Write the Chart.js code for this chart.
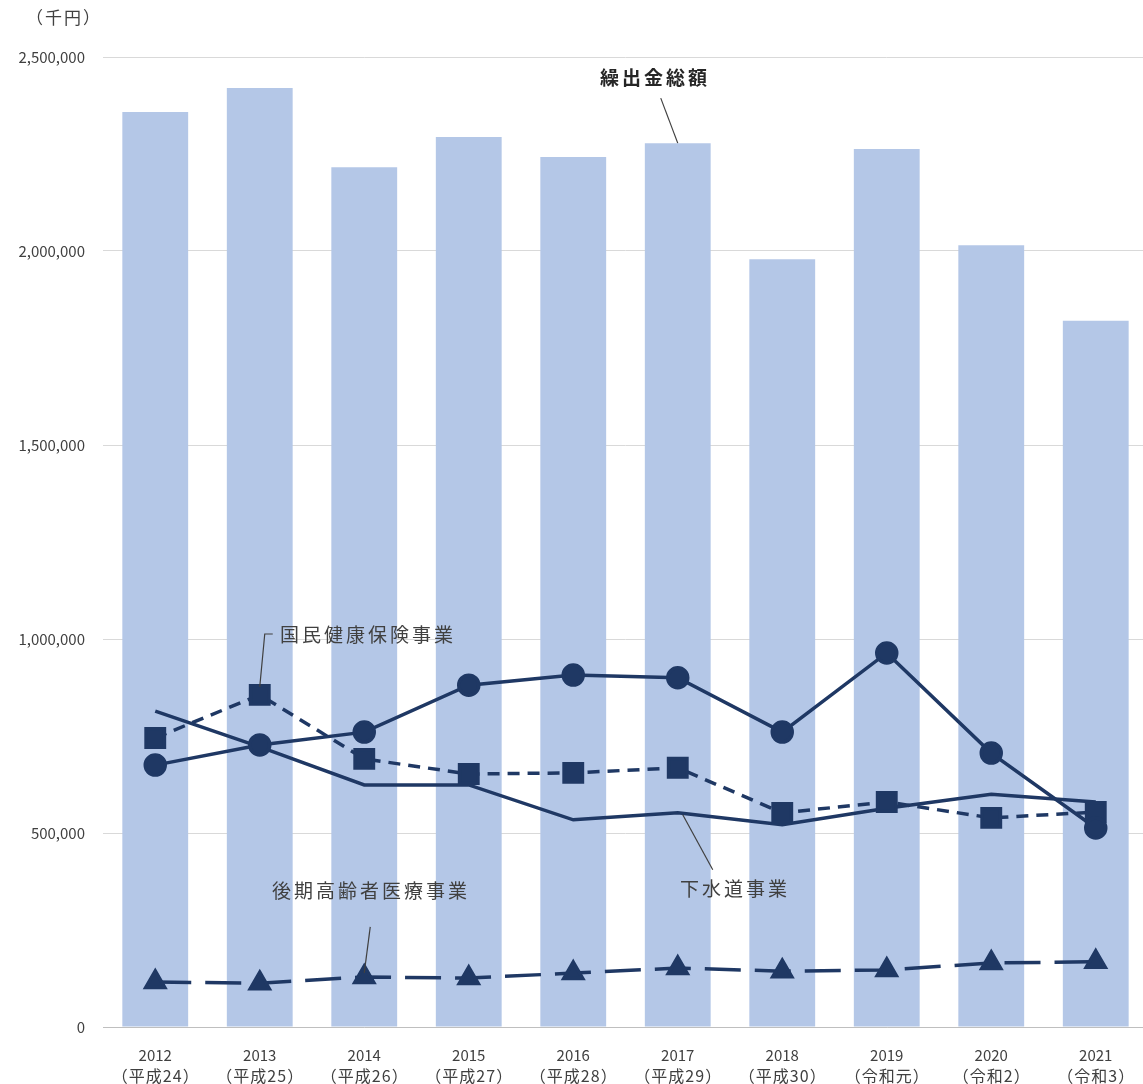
<!DOCTYPE html>
<html>
<head>
<meta charset="utf-8">
<script src="https://cdn.jsdelivr.net/npm/chart.js@4.4.1/dist/chart.umd.min.js"></script>
<style>
    html, body { margin: 0; padding: 0; background: #fff; overflow: hidden; }
    #chart { display: block; }
</style>
</head>
<body>
<canvas id="chart" width="1148" height="1084"></canvas>
<script>
// chart data
const years = ['2012', '2013', '2014', '2015', '2016', '2017', '2018', '2019', '2020', '2021'];
const eras = ['（平成24）', '（平成25）', '（平成26）', '（平成27）', '（平成28）', '（平成29）', '（平成30）', '（令和元）', '（令和2）', '（令和3）'];
const totalTransfer = [2358000, 2420000, 2216000, 2294000, 2242000, 2278000, 1979000, 2263000, 2015000, 1820000];
const careInsurance = [675000, 727000, 760000, 881000, 907000, 900000, 760000, 964000, 706000, 513000];
const nationalHealth = [745000, 856000, 691000, 652000, 655000, 668000, 552000, 580000, 539000, 554000];
const sewerage = [814000, 722000, 624000, 624000, 534000, 552000, 521000, 564000, 600000, 580000];
const elderlyMedical = [116000, 113000, 129000, 126000, 139000, 152000, 144000, 147000, 165000, 168000];
const yTicks = [0, 500000, 1000000, 1500000, 2000000, 2500000];

const navy = '#1f3864';
const textFont = '"Noto Sans CJK JP", "Noto Sans", sans-serif';

// x labels drawn by hand so the era line can get its own size
const xLabelPlugin = {
    id: 'xLabels',
    afterDraw(chart) {
        const ctx = chart.ctx;
        const x = chart.scales.x;
        ctx.save();
        ctx.fillStyle = '#404040';
        ctx.textAlign = 'center';
        ctx.textBaseline = 'middle';
        years.forEach((yr, i) => {
            const px = x.getPixelForTick(i);
            ctx.letterSpacing = '0px';
            ctx.font = '15px ' + textFont;
            ctx.fillText(yr, px, 1055);
            ctx.letterSpacing = '1px';
            ctx.font = '16px ' + textFont;
            ctx.fillText(eras[i], px + 0.5, 1076);
        });
        ctx.restore();
    }
};

// Draws the unit label and the callout labels with leader lines
const calloutPlugin = {
    id: 'callouts',
    afterDatasetsDraw(chart) {
        const ctx = chart.ctx;
        const x = chart.scales.x;
        const y = chart.scales.y;

        ctx.save();
        ctx.fillStyle = '#404040';
        ctx.font = '17px ' + textFont;
        ctx.textAlign = 'center';
        ctx.textBaseline = 'middle';
        ctx.letterSpacing = '2px';
        ctx.fillText('（千円）', 64, 18);

        ctx.textAlign = 'left';
        ctx.strokeStyle = '#404040';
        ctx.lineWidth = 1.2;
        ctx.letterSpacing = '3px';

        function line(x1, y1, x2, y2) {
            ctx.beginPath();
            ctx.moveTo(x1, y1);
            ctx.lineTo(x2, y2);
            ctx.stroke();
        }

        // 繰出金総額 -> 2017 bar
        const bx = x.getPixelForValue(5);
        const by = y.getPixelForValue(totalTransfer[5]);
        line(bx - 17, by - 45, bx, by);
        ctx.font = 'bold 19px ' + textFont;
        ctx.fillStyle = '#262626';
        ctx.fillText('繰出金総額', 600, 78);

        ctx.font = '19px ' + textFont;
        ctx.fillStyle = '#404040';

        // 国民健康保険事業 -> 2013 square
        const nx = x.getPixelForValue(1);
        const ny = y.getPixelForValue(nationalHealth[1]);
        ctx.beginPath();
        ctx.moveTo(nx, ny - 8);
        ctx.lineTo(nx + 5, 634);
        ctx.lineTo(nx + 13, 634);
        ctx.stroke();
        ctx.fillText('国民健康保険事業', 280, 635);

        // 下水道事業 -> line near 2017
        const sx = x.getPixelForValue(5) + 5;
        const sy = y.getPixelForValue(sewerage[5]) + 2;
        line(sx, sy, sx + 30, sy + 55);
        ctx.fillText('下水道事業', 680, 889);

        // 後期高齢者医療事業 -> 2014 triangle
        const ex = x.getPixelForValue(2);
        const ey = y.getPixelForValue(elderlyMedical[2]);
        line(ex, ey - 4, ex + 6, ey - 50);
        ctx.fillText('後期高齢者医療事業', 272, 891);
        ctx.restore();
    }
};

const ctx = document.getElementById('chart').getContext('2d');
const myChart = new Chart(ctx, {
    data: {
        labels: years,
        datasets: [
            {
                type: 'line',
                label: '介護保険事業',
                data: careInsurance,
                borderColor: navy,
                backgroundColor: navy,
                borderWidth: 3.5,
                pointStyle: 'circle',
                pointRadius: 10,
                tension: 0,
                order: 1
            },
            {
                type: 'line',
                label: '国民健康保険事業',
                data: nationalHealth,
                borderColor: navy,
                backgroundColor: navy,
                borderWidth: 3.5,
                borderDash: [12, 8],
                pointStyle: 'rect',
                pointRadius: 13,
                tension: 0,
                order: 2
            },
            {
                type: 'line',
                label: '下水道事業',
                data: sewerage,
                borderColor: navy,
                borderWidth: 3.5,
                pointRadius: 0,
                tension: 0,
                order: 3
            },
            {
                type: 'line',
                label: '後期高齢者医療事業',
                data: elderlyMedical,
                borderColor: navy,
                backgroundColor: navy,
                borderWidth: 3.5,
                borderDash: [36, 14],
                pointStyle: 'triangle',
                pointRadius: 11,
                tension: 0,
                order: 4
            },
            {
                type: 'bar',
                label: '繰出金総額',
                data: totalTransfer,
                backgroundColor: '#b4c7e7',
                barPercentage: 0.63,
                categoryPercentage: 1,
                order: 10
            }
        ]
    },
    options: {
        responsive: false,
        animation: false,
        layout: {
            autoPadding: false,
            padding: { top: 57, right: 0, bottom: 0, left: 0 }
        },
        plugins: {
            legend: { display: false },
            tooltip: { enabled: false }
        },
        scales: {
            x: {
                grid: { display: false },
                border: { color: '#bfbfbf', width: 1 },
                ticks: { display: false },
                afterFit: function(scale) {
                    scale.height = 57;
                    scale.paddingLeft = 0;
                    scale.paddingRight = 0;
                }
            },
            y: {
                min: 0,
                max: 2500000,
                afterBuildTicks: function(scale) {
                    scale.ticks = yTicks.map(v => ({ value: v }));
                },
                grid: { color: '#d9d9d9', lineWidth: 1, drawTicks: false },
                border: { display: false },
                ticks: {
                    color: '#404040',
                    font: { size: 15, family: textFont },
                    padding: 18,
                    callback: function(value) {
                        return value.toLocaleString('en-US');
                    }
                },
                afterFit: function(scale) {
                    scale.width = 103;
                }
            }
        }
    },
    plugins: [xLabelPlugin, calloutPlugin]
});
</script>
</body>
</html>
